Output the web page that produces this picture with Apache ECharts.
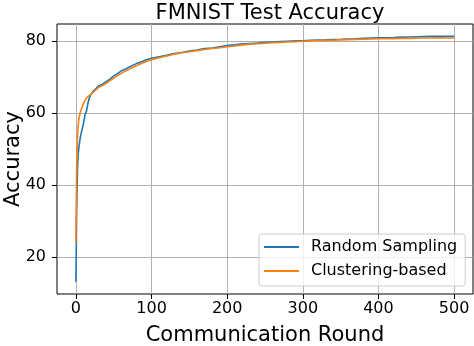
<!DOCTYPE html>
<html>
<head>
<meta charset="utf-8">
<script src="https://cdn.jsdelivr.net/npm/echarts@6/dist/echarts.min.js"></script>
<style>
  html, body { margin: 0; padding: 0; background: #fff; }
  #chart { width: 474px; height: 346px; }
</style>
</head>
<body>
<div id="chart"></div>
<script>
const rounds = [0, 1, 2, 3, 4, 5, 6, 8, 10, 12, 14, 16, 18, 20, 23, 26, 30, 35, 40, 45,
  50, 55, 60, 65, 70, 75, 80, 85, 90, 95, 100, 110, 120, 130, 140, 150, 160, 170, 180, 190,
  200, 210, 220, 230, 240, 250, 260, 270, 280, 290, 300, 310, 320, 330, 340, 350, 360, 370,
  380, 390, 400, 410, 420, 430, 440, 450, 460, 470, 480, 490, 500];

const randomSampling = [13.1, 33, 44, 48.5, 50.5, 52, 53.5, 55.3, 57, 59.5, 60.5, 62.8, 64.3, 65.2, 66.1, 66.6, 67.5, 68.0, 68.7, 69.4,
  70.3, 70.9, 71.7, 72.1, 72.7, 73.2, 73.7, 74.1, 74.5, 74.9, 75.2, 75.6, 76.0, 76.5, 76.8, 77.2, 77.5, 77.9, 78.0, 78.4,
  78.7, 78.9, 79.2, 79.3, 79.4, 79.6, 79.7, 79.8, 79.9, 80.0, 80.05, 80.15, 80.25, 80.3, 80.4, 80.45, 80.55, 80.6,
  80.7, 80.8, 80.85, 80.9, 80.95, 81.05, 81.1, 81.15, 81.2, 81.25, 81.25, 81.3, 81.3];

const clusteringBased = [24.1, 45, 53, 56.5, 58.5, 59.5, 60.3, 61.5, 62.7, 63.4, 64.2, 64.6, 64.9, 65.2, 65.8, 66.3, 67.1, 67.6, 68.2, 69.0,
  69.6, 70.4, 71.0, 71.6, 72.1, 72.6, 73.1, 73.6, 74.0, 74.4, 74.8, 75.3, 75.8, 76.3, 76.7, 77.0, 77.3, 77.6, 77.9, 78.1,
  78.4, 78.6, 78.9, 79.1, 79.2, 79.35, 79.5, 79.6, 79.7, 79.8, 79.9, 80.0, 80.1, 80.15, 80.2, 80.3, 80.35, 80.4,
  80.5, 80.55, 80.6, 80.6, 80.65, 80.7, 80.7, 80.75, 80.8, 80.8, 80.85, 80.8, 80.8];

const xTicks = [0, 100, 200, 300, 400, 500];
const yTicks = [20, 40, 60, 80];

const font = 'DejaVu Sans';
const pair = (ys) => rounds.map((r, i) => [r, ys[i]]);

const chart = echarts.init(document.getElementById('chart'), null, { renderer: 'canvas' });

chart.setOption({
  animation: false,
  title: {
    text: 'FMNIST Test Accuracy',
    left: 265,
    top: -2,
    textAlign: 'center',
    textStyle: { fontFamily: font, fontSize: 21, fontWeight: 'normal', color: '#000' }
  },
  grid: {
    left: 57, right: 1, top: 24, bottom: 52,
    outerBoundsMode: 'none',
    containLabel: false,
    show: true, borderColor: '#000', borderWidth: 1, backgroundColor: 'transparent'
  },
  legend: {
    orient: 'vertical',
    left: 259,
    top: 234,
    padding: [4, 8, 6, 5],
    itemGap: 6,
    itemWidth: 35,
    itemHeight: 2,
    icon: 'rect',
    backgroundColor: 'rgba(255,255,255,0.8)',
    borderColor: '#cccccc',
    borderWidth: 1,
    borderRadius: 3,
    textStyle: { fontFamily: font, fontSize: 16, color: '#000', lineHeight: 18, padding: [0, 0, 0, 7] },
    data: ['Random Sampling', 'Clustering-based']
  },
  xAxis: {
    type: 'value',
    min: -25,
    max: 525,
    minInterval: 100,
    maxInterval: 100,
    name: 'Communication Round',
    nameLocation: 'middle',
    nameGap: 31,
    nameMoveOverlap: false,
    nameTextStyle: { fontFamily: font, fontSize: 21, color: '#000' },
    axisLine: { show: false, onZero: false },
    axisTick: { show: true, length: 5, customValues: xTicks, lineStyle: { color: '#000' } },
    axisLabel: { customValues: xTicks, margin: 7, fontFamily: font, fontSize: 16, color: '#000' },
    splitLine: { show: true, lineStyle: { color: '#b0b0b0', width: 1 } }
  },
  yAxis: {
    type: 'value',
    min: 9.7,
    max: 84.7,
    minInterval: 20,
    maxInterval: 20,
    name: 'Accuracy',
    nameLocation: 'middle',
    nameGap: 33,
    nameMoveOverlap: false,
    nameTextStyle: { fontFamily: font, fontSize: 21, color: '#000' },
    axisLine: { show: false, onZero: false },
    axisTick: { show: true, length: 5, customValues: yTicks, lineStyle: { color: '#000' } },
    axisLabel: { customValues: yTicks, margin: 11, fontFamily: font, fontSize: 16, color: '#000' },
    splitLine: { show: true, lineStyle: { color: '#b0b0b0', width: 1 } }
  },
  series: [
    {
      name: 'Random Sampling',
      type: 'line',
      data: pair(randomSampling),
      symbol: 'none',
      color: '#1f77b4',
      lineStyle: { width: 1.6, color: '#1f77b4' }
    },
    {
      name: 'Clustering-based',
      type: 'line',
      data: pair(clusteringBased),
      symbol: 'none',
      color: '#ff7f0e',
      lineStyle: { width: 1.6, color: '#ff7f0e' }
    }
  ]
});
</script>
</body>
</html>
